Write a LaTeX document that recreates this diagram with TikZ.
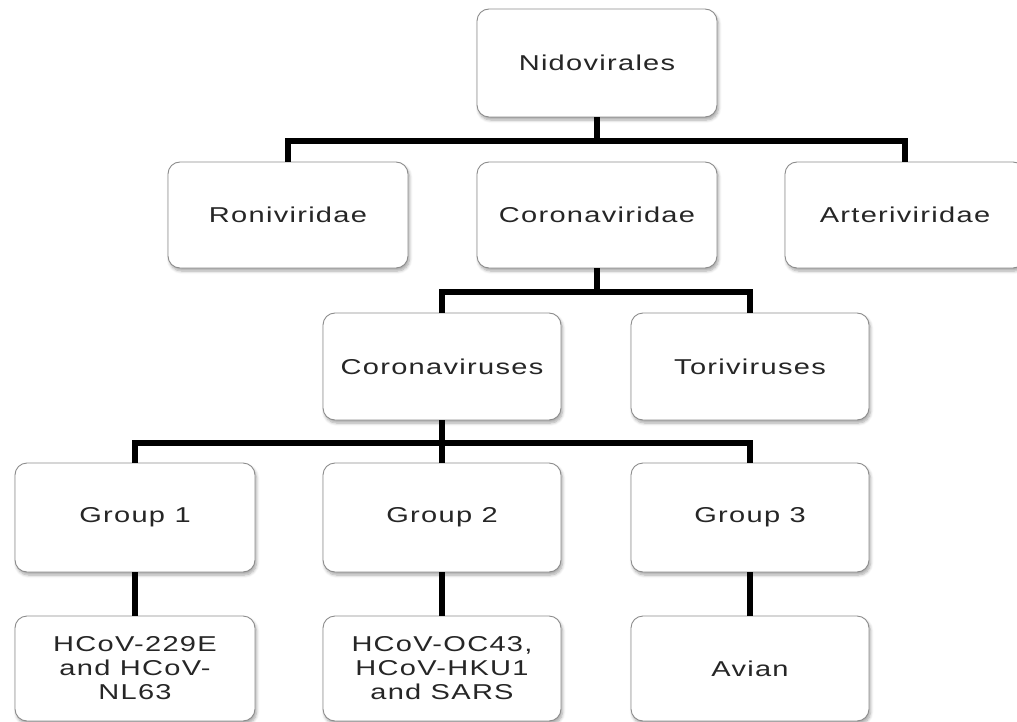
\documentclass[tikz,border=0pt]{standalone}
\usepackage{fontspec}
\setmainfont{Liberation Sans}[FakeStretch=1.35,LetterSpace=6]
\usetikzlibrary{shadows.blur}
\begin{document}
\begin{tikzpicture}[x=1pt,y=-1pt,
  box/.style={draw=black!45, line width=0.9pt, fill=white, rounded corners=12pt,
    minimum width=240pt, minimum height=107pt, inner sep=2pt, align=center,
    font=\fontsize{21.5}{24}\selectfont, text=black!85,
    blur shadow={shadow xshift=1.5pt, shadow yshift=-3pt, shadow blur radius=3pt, shadow blur steps=6, shadow opacity=35}},
  conn/.style={line width=5.5pt, black, line join=miter}]
\useasboundingbox (0,0) rectangle (1017,722);
\node[box, minimum height=108pt] (nid) at (597,63) {Nidovirales};
\node[box, minimum height=106pt] (ron) at (288,215) {Roniviridae};
\node[box, minimum height=106pt] (cvd) at (597,215) {Coronaviridae};
\node[box, minimum height=106pt] (art) at (905,215) {Arteriviridae};
\node[box, minimum width=238pt] (cvs) at (442,366.5) {Coronaviruses};
\node[box, minimum width=238pt] (tor) at (750,366.5) {Toriviruses};
\node[box, minimum height=109pt] (g1) at (135,517.5) {Group 1};
\node[box, minimum height=109pt, minimum width=238pt] (g2) at (442,517.5) {Group 2};
\node[box, minimum height=109pt, minimum width=238pt] (g3) at (750,517.5) {Group 3};
\node[box, minimum height=105pt] (b1) at (135,668.5) {HCoV-229E\\and HCoV-\\NL63};
\node[box, minimum height=105pt, minimum width=238pt] (b2) at (442,668.5) {HCoV-OC43,\\HCoV-HKU1\\and SARS};
\node[box, minimum height=105pt, minimum width=238pt] (b3) at (750,668.5) {Avian};
\coordinate (j1) at (597,141);
\coordinate (j2) at (597,292);
\coordinate (j3) at (442,443);
\draw[conn] (nid.south) -- (j1);
\draw[conn] (ron.north) |- (j1) -| (art.north);
\draw[conn] (cvd.south) -- (j2);
\draw[conn] (cvs.north) |- (j2) -| (tor.north);
\draw[conn] (cvs.south) -- (g2.north);
\draw[conn] (g1.north) |- (j3) -| (g3.north);
\draw[conn] (g1.south) -- (b1.north);
\draw[conn] (g2.south) -- (b2.north);
\draw[conn] (g3.south) -- (b3.north);
\end{tikzpicture}
\end{document}
